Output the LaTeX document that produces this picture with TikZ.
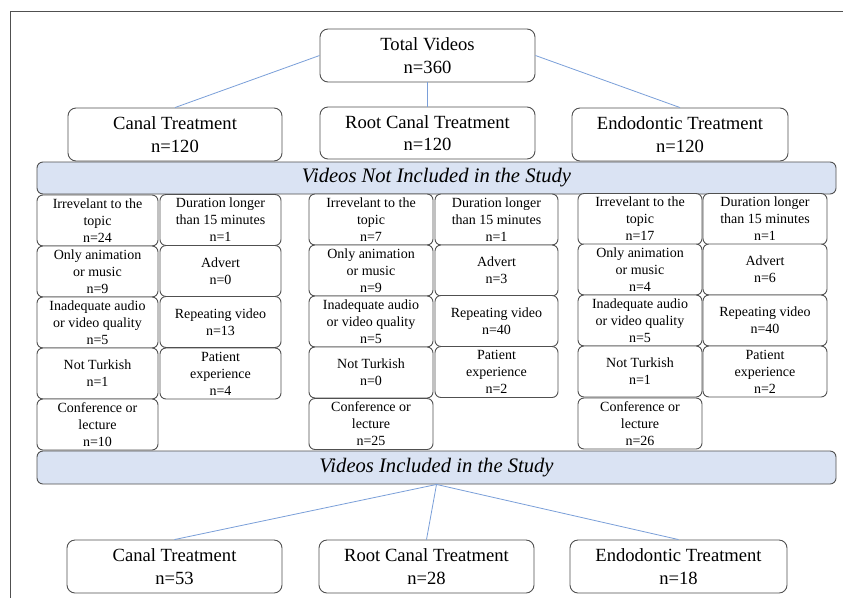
\documentclass[tikz,border=0pt]{standalone}
\usepackage{fontspec}
\setmainfont{Liberation Serif}
\definecolor{bandfill}{HTML}{DAE3F3}
\definecolor{linkblue}{HTML}{7A9FD9}
\definecolor{edgegray}{HTML}{505050}
\begin{document}
\begin{tikzpicture}[x=1pt,y=-1pt,
  bigbox/.style={draw=edgegray, line width=0.9pt, rounded corners=8pt, fill=white, minimum width=215pt, minimum height=53pt, inner sep=0pt, align=center, font=\fontsize{18.6}{22.5}\selectfont},
  band/.style={draw=edgegray, line width=0.9pt, rounded corners=6pt, fill=bandfill, minimum width=799pt, minimum height=32pt, inner sep=0pt, font=\fontsize{20.6}{24}\selectfont\itshape},
  sbox/.style={draw=edgegray, line width=0.9pt, rounded corners=6pt, fill=white, minimum height=51pt, inner sep=0pt, align=center, font=\fontsize{14}{17}\selectfont},
  link/.style={draw=linkblue, line width=0.8pt}]
\useasboundingbox (0,0) rectangle (843,598);
\fill[white] (0,0) rectangle (843,598);
% frame
\draw[edgegray, line width=0.9pt] (843,11) -- (10,11) -- (10,598);

% top level
\node[bigbox] (total) at (427.5,55.5) {Total Videos\\n=360};
\node[bigbox, minimum width=214pt] (canal) at (175,134.5) {Canal Treatment\\n=120};
\node[bigbox, minimum height=52pt] (root) at (427.5,133) {Root Canal Treatment\\n=120};
\node[bigbox, minimum width=216pt] (endo) at (680,134.5) {Endodontic Treatment\\n=120};

\draw[link] (total.west) -- (canal.north);
\draw[link] (total.south) -- (root.north);
\draw[link] (total.east) -- (endo.north);

% band 1
\node[band] (excl) at (436.5,178) {Videos Not Included in the Study};

% group 1
\begin{scope}[every node/.style={sbox, minimum width=121pt}]
\node (a1) at (97.5,220.5) {Irrevelant to the\\topic\\n=24};
\node (a2) at (97.5,271.5) {Only animation\\or music\\n=9};
\node (a3) at (97.5,322.5) {Inadequate audio\\or video quality\\n=5};
\node (a4) at (97.5,373.5) {Not Turkish\\n=1};
\node (a5) at (97.5,424.5) {Conference or\\lecture\\n=10};
\node (b1) at (220.5,220) {Duration longer\\than 15 minutes\\n=1};
\node (b2) at (220.5,271) {Advert\\n=0};
\node (b3) at (220.5,322) {Repeating video\\n=13};
\node (b4) at (220.5,373.5) {Patient\\experience\\n=4};
\end{scope}

% group 2
\begin{scope}[every node/.style={sbox, minimum width=124pt}]
\node (c1) at (371,219.5) {Irrevelant to the\\topic\\n=7};
\node (c2) at (371,270.5) {Only animation\\or music\\n=9};
\node (c3) at (371,321.5) {Inadequate audio\\or video quality\\n=5};
\node (c4) at (371,372.5) {Not Turkish\\n=0};
\node (c5) at (371,424) {Conference or\\lecture\\n=25};
\end{scope}
\begin{scope}[every node/.style={sbox, minimum width=123pt}]
\node (d1) at (496.5,219.5) {Duration longer\\than 15 minutes\\n=1};
\node (d2) at (496.5,270.5) {Advert\\n=3};
\node (d3) at (496.5,321) {Repeating video\\n=40};
\node (d4) at (496.5,372) {Patient\\experience\\n=2};
\end{scope}

% group 3
\begin{scope}[every node/.style={sbox, minimum width=124pt}]
\node (e1) at (640,219) {Irrevelant to the\\topic\\n=17};
\node (e2) at (640,269.5) {Only animation\\or music\\n=4};
\node (e3) at (640,320.5) {Inadequate audio\\or video quality\\n=5};
\node (e4) at (640,371.5) {Not Turkish\\n=1};
\node (e5) at (640,423.5) {Conference or\\lecture\\n=26};
\node (f1) at (765,219) {Duration longer\\than 15 minutes\\n=1};
\node (f2) at (765,269.5) {Advert\\n=6};
\node (f3) at (765,320.5) {Repeating video\\n=40};
\node (f4) at (765,371.5) {Patient\\experience\\n=2};
\end{scope}

% band 2
\node[band, minimum height=33pt] (incl) at (436.5,467.5) {Videos Included in the Study};

% bottom level
\node[bigbox] (canal2) at (174.5,566.5) {Canal Treatment\\n=53};
\node[bigbox] (root2) at (426.5,566.5) {Root Canal Treatment\\n=28};
\node[bigbox, minimum width=217pt] (endo2) at (678.5,566.5) {Endodontic Treatment\\n=18};

\draw[link] (incl.south) -- (canal2.north);
\draw[link] (incl.south) -- (root2.north);
\draw[link] (incl.south) -- (endo2.north);
\end{tikzpicture}
\end{document}
